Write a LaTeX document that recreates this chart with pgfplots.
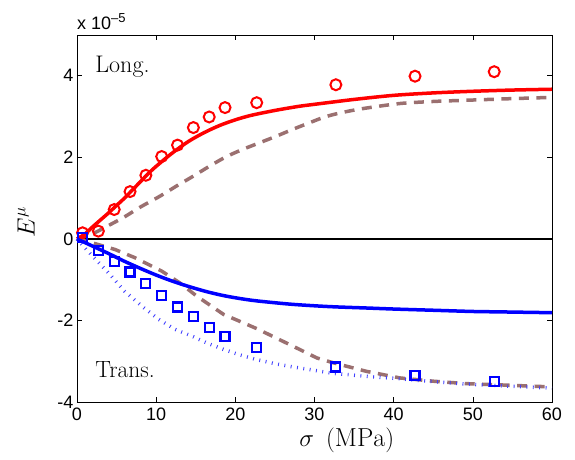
\documentclass[border=0pt]{standalone}
\usepackage{pgfplots}
\pgfplotsset{compat=1.18}
\usepackage{fontspec}
\newfontfamily\arial{Liberation Sans}
\definecolor{brn}{RGB}{155,112,112}
\begin{document}
\begin{tikzpicture}
\path[use as bounding box] (0pt,0pt) rectangle (575pt,459pt);
\begin{axis}[
 at={(77pt,57pt)}, anchor=south west, scale only axis, width=475pt, height=367pt,
 xmin=0,xmax=60,ymin=-4,ymax=5,
 xtick={0,10,20,30,40,50,60}, xticklabels={0,10,20,30,40,50,60},
 ytick={-4,-2,0,2,4}, yticklabels={-4,-2,0,2,4},
 tick align=inside, major tick length=5pt,
 xtick pos=both, ytick pos=both,
 tick style={black, line width=0.6pt},
 ticklabel style={font=\arial\fontsize{18}{20}\selectfont},
 xticklabel style={yshift=-2pt},
 /pgf/number format/assume math mode=true,
 axis line style={line width=0.8pt},
 xlabel={$\sigma\ \,(\mathrm{MPa})$},
 ylabel={$E^{\mu}$},
 label style={font=\fontsize{26}{28}\selectfont},
 xlabel style={at={(axis description cs:0.568,0)}, anchor=base, yshift=-44pt},
 ylabel style={at={(axis description cs:-0.082,0.49)}, anchor=south, rotate=0},
 clip=false,
]
\addplot[black, line width=2pt] coordinates {(0,0)(60,0)};
\addplot[brn, line width=3.5pt, dash pattern=on 10pt off 7.5pt, smooth] coordinates {
(0,0)(2,0.13)(4,0.33)(6,0.54)(8,0.78)(10.5,1.05)(12.6,1.3)(14.7,1.54)(16.8,1.79)(18.9,2.02)(21,2.2)(23.1,2.36)(25.2,2.52)(27.3,2.69)(29.4,2.85)(31,2.97)(32.4,3.05)(34.5,3.14)(36.6,3.21)(40.8,3.32)(45,3.37)(49.2,3.40)(55,3.44)(60,3.47)};
\addplot[brn, line width=3.5pt, dash pattern=on 10pt off 7.5pt] coordinates {
(0,0)(2,-0.1)(4.8,-0.26)(7.3,-0.46)(10.7,-0.79)(13,-1.08)(15.1,-1.4)(18.5,-1.85)(22.7,-2.2)(26,-2.51)(28,-2.7)(30.3,-2.92)(32.4,-3.04)(36.6,-3.25)(40.8,-3.41)(45,-3.49)(49.2,-3.55)(53.4,-3.58)(60,-3.63)};
\addplot[blue!75, line width=3.5pt, dash pattern=on 0.9pt off 5.5pt] coordinates {
(0,0)(1,-0.22)(2,-0.43)(4,-0.84)(6,-1.28)(8.2,-1.65)(10.3,-1.97)(12.4,-2.22)(14.7,-2.4)(16.5,-2.56)(18.5,-2.71)(20.5,-2.84)(22.7,-2.96)(25,-3.06)(27,-3.13)(30.5,-3.24)(32.4,-3.30)(36.6,-3.37)(40.8,-3.43)(45,-3.50)(49.2,-3.56)(53.4,-3.60)(60,-3.66)};
\addplot[red, line width=3.5pt, smooth] coordinates {
(0,0)(1,0.12)(2,0.3)(3,0.47)(4,0.64)(5,0.82)(6,1.0)(7,1.2)(8,1.4)(9,1.6)(10,1.78)(12,2.1)(14,2.38)(16,2.6)(18,2.78)(20,2.92)(22,3.03)(25,3.15)(28,3.25)(30,3.3)(35,3.42)(40,3.52)(45,3.58)(50,3.62)(55,3.65)(60,3.67)};
\addplot[blue, line width=3.5pt, smooth] coordinates {
(0,0)(2,-0.18)(4,-0.36)(6,-0.55)(8.2,-0.74)(10.3,-0.91)(12.4,-1.06)(14.5,-1.19)(16.5,-1.3)(18.5,-1.39)(20.5,-1.46)(22.7,-1.52)(26.9,-1.6)(30.4,-1.645)(33,-1.67)(36.6,-1.695)(40,-1.72)(45,-1.75)(50,-1.78)(53.4,-1.79)(60,-1.81)};
\addplot[red, only marks, mark=o, mark size=5.5pt, mark options={line width=2pt}] coordinates {
(0.7,0.15)(2.7,0.19)(4.7,0.72)(6.7,1.16)(8.7,1.56)(10.7,2.02)(12.7,2.30)(14.7,2.73)(16.7,2.99)(18.7,3.22)(22.7,3.34)(32.7,3.78)(42.7,3.99)(52.7,4.10)};
\addplot[blue, only marks, mark=square, mark size=4.5pt, mark options={line width=2.2pt}] coordinates {
(0.7,0.03)(2.7,-0.28)(4.7,-0.55)(6.7,-0.81)(8.7,-1.09)(10.7,-1.39)(12.7,-1.67)(14.7,-1.90)(16.7,-2.17)(18.7,-2.39)(22.7,-2.67)(32.7,-3.14)(42.7,-3.35)(52.7,-3.50)};
\node[anchor=base west, font=\fontsize{24}{26}\selectfont, inner sep=0pt] at (axis cs:2.3,4.07) {Long.};
\node[anchor=base west, font=\fontsize{23.5}{26}\selectfont, inner sep=0pt] at (axis cs:2.3,-3.40) {Trans.};
\node[anchor=base west, font=\arial\fontsize{18}{20}\selectfont, inner sep=0pt] at (rel axis cs:0,1) [yshift=6pt] {x 10\raisebox{7pt}{\fontsize{13}{14}\selectfont –5}};
\end{axis}
\end{tikzpicture}
\end{document}
